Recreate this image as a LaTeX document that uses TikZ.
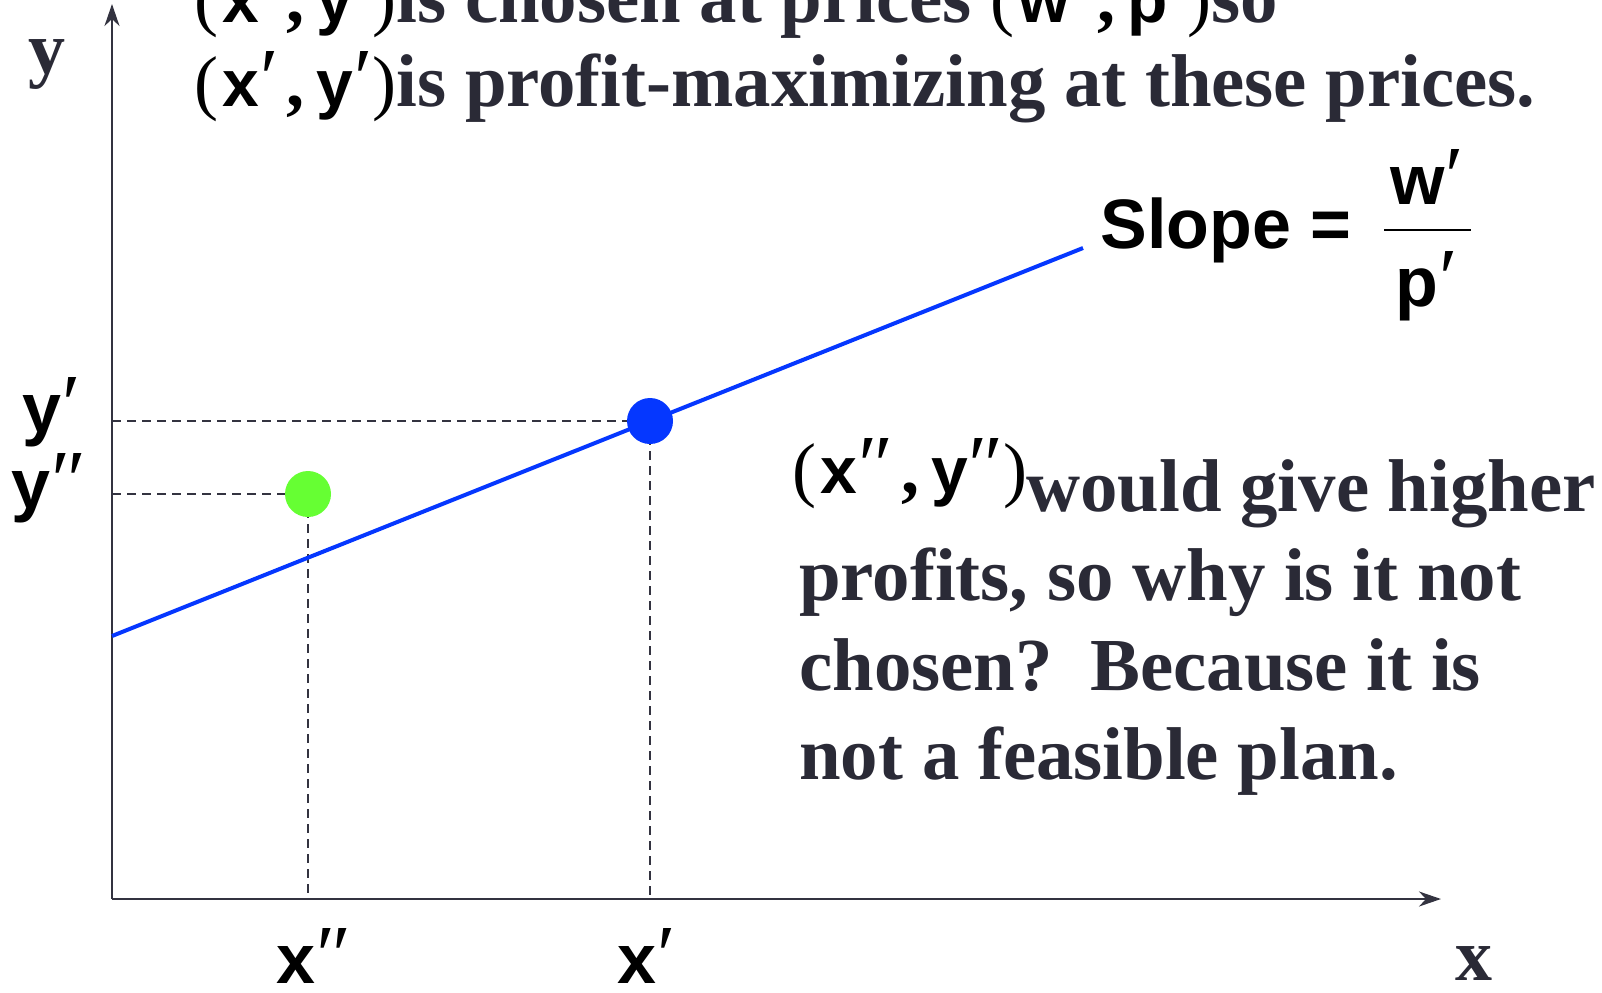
\documentclass[tikz,border=0pt]{standalone}
\usepackage{fontspec}
\setmainfont{Liberation Serif}
\newfontfamily\sansf{Liberation Sans}
\newfontfamily\primef{Liberation Serif}
\usetikzlibrary{arrows.meta}
\definecolor{txt}{RGB}{42,42,54}
\definecolor{axiscol}{RGB}{51,51,64}
\definecolor{lblue}{RGB}{5,55,255}
\definecolor{lgreen}{RGB}{102,255,51}
\newcommand{\sv}[1]{{\sansf\bfseries\color{black}\fontsize{33}{40}\selectfont #1}}
\newcommand{\rp}[1]{{\mdseries\color{black}\fontsize{36}{43}\selectfont #1}}
\newcommand{\cm}{{\bfseries\color{black}\fontsize{36}{43}\selectfont ,}}
\newcommand{\prm}[1]{{\primef\mdseries\fontsize{42}{48}\selectfont #1}}
\newcommand{\pair}[3]{\rp{(}\kern2pt\sv{#1\kern0.5pt\prm{#3}}\kern4pt\cm\kern6pt\sv{#2\kern0.5pt\prm{#3}}\kern0pt\rp{)}}
\begin{document}
\begin{tikzpicture}[x=0.5pt,y=-0.5pt,
  serif/.style={text=txt, font=\fontsize{37.4}{44}\selectfont\bfseries, inner sep=0pt, anchor=base west},
  lab/.style={text=black, font=\sansf\bfseries\fontsize{35}{42}\selectfont, inner sep=0pt},
  axlab/.style={text=txt, font=\fontsize{37}{44}\selectfont\bfseries, inner sep=0pt, anchor=base},
  axisline/.style={draw=axiscol, line width=1.2pt},
  guide/.style={draw=axiscol, line width=0.9pt, dash pattern=on 4.5pt off 3pt},
  dot/.style={circle, inner sep=0pt, minimum size=23pt},
  tip/.style={-{Stealth[length=11pt,width=7.5pt,inset=3.5pt]}}]
\useasboundingbox (0,0) rectangle (1602,992);
% coordinates
\coordinate (O) at (112,899);
\coordinate (yt) at (112,4);
\coordinate (xt) at (1441,899);
\coordinate (L0) at (112,636);
\coordinate (L1) at (1083,248);
\coordinate (P1) at (650,421);
\coordinate (P2) at (308,494);
\coordinate (ay1) at (112,421);
\coordinate (ay2) at (112,494);
\coordinate (ax1) at (650,899);
\coordinate (ax2) at (308,899);
% axes
\draw[axisline, tip] (O) -- (yt);
\draw[axisline, tip] (O) -- (xt);
% guides
\draw[guide] (ay1) -- (P1);
\draw[guide] (ay2) -- (P2);
\draw[guide] (P1) -- (ax1);
\draw[guide] (P2) -- (ax2);
% line
\draw[lblue, line width=2pt] (L0) -- (L1);
% dots
\node[dot, fill=lblue] (B) at (P1) {};
\node[dot, fill=lgreen] (G) at (P2) {};
% axis labels
\node[axlab] (ylab) at (47,73) {y};
\node[axlab] (xlab) at (1474,980) {x};
\node[lab, anchor=base] (yp) at (52,432) {y\kern0.5pt\prm{′}};
\node[lab, anchor=base] (ypp) at (49,508) {y\kern0.5pt\prm{″}};
\node[lab, anchor=base] (xpp) at (314,983) {x\kern0.5pt\prm{″}};
\node[lab, anchor=base] (xp) at (647,983) {x\kern0.5pt\prm{′}};
% top text
\node[serif] (t1) at (194,22) {\pair{x}{y}{′}is chosen at prices \pair{w}{p}{′}so};
\node[serif] (t2) at (194,106) {\pair{x}{y}{′}is profit-maximizing at these prices.};
% slope
\node[lab, anchor=base west] (sl) at (1100,248) {Slope =};
\node[lab, anchor=base] (w) at (1427,204) {w\kern0.5pt\prm{′}};
\node[lab, anchor=base] (p) at (1427,306) {p\kern0.5pt\prm{′}};
\coordinate (fb1) at (1384,230);
\coordinate (fb2) at (1471,230);
\draw[black, line width=0.8pt] (fb1) -- (fb2);
% paragraph
\node[serif] (q0) at (792,493) {\pair{x}{y}{″}};
\node[serif] (q1) at (1026,511) {would give higher};
\node[serif] (q2) at (799,600) {profits, so why is it not};
\node[serif] (q3) at (799,690) {chosen?\ \ Because it is};
\node[serif] (q4) at (799,779) {not a feasible plan.};
\end{tikzpicture}
\end{document}
